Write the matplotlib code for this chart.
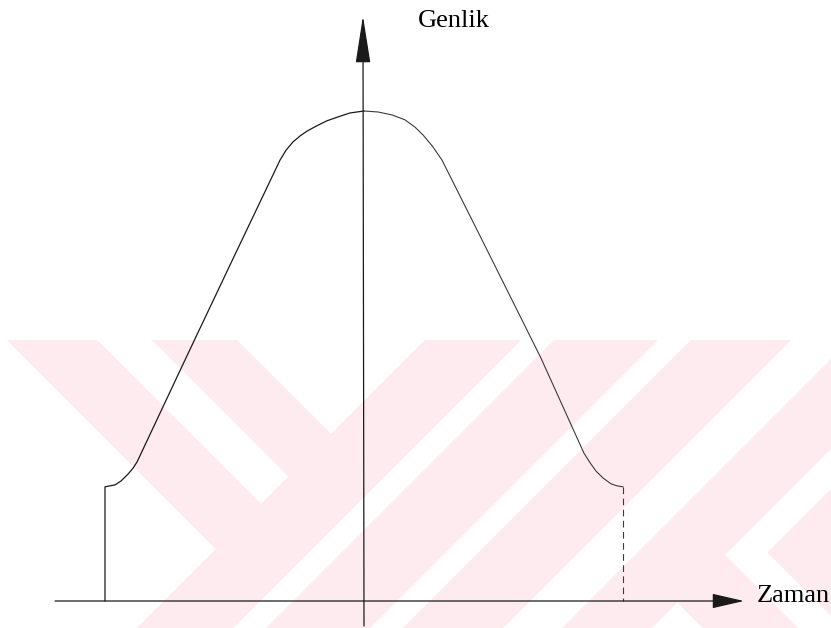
import numpy as np
import matplotlib
matplotlib.use("Agg")
import matplotlib.pyplot as plt

# Pulse shape: time (normalised, edges at +/-1) and amplitude (peak = 1)
time_left = [-1.000, -1.000, -0.981, -0.961, -0.938, -0.911, -0.892, -0.876,
             -0.691, -0.517, -0.324, -0.301, -0.274, -0.247, -0.220, -0.185,
             -0.143, -0.100, -0.054, 0.000]
amp_left = [0.000, 0.233, 0.235, 0.237, 0.245, 0.259, 0.271, 0.284,
            0.492, 0.686, 0.900, 0.920, 0.937, 0.949, 0.959, 0.969,
            0.980, 0.988, 0.996, 1.000]

time_right = [0.000, 0.054, 0.108, 0.158, 0.197, 0.228, 0.263, 0.301,
              0.448, 0.602, 0.683, 0.849, 0.873, 0.896, 0.923, 0.954,
              0.977, 1.000]
amp_right = [1.000, 0.998, 0.992, 0.982, 0.967, 0.951, 0.929, 0.900,
             0.745, 0.582, 0.496, 0.302, 0.282, 0.265, 0.251, 0.239,
             0.235, 0.233]

edge_time = [1.000, 1.000]
edge_amp = [0.233, 0.000]

x_label = "Zaman"
y_label = "Genlik"

W, H, DPI = 831, 628, 100
fig = plt.figure(figsize=(W / DPI, H / DPI), dpi=DPI)
fig.patch.set_facecolor("white")

# ---- pale background emblem (diagonal bands) ----
bg = fig.add_axes([0, 0, 1, 1], zorder=0)
bg.set_axis_off()
ss = 3
yy, xx = np.mgrid[0:H * ss, 0:W * ss]
xx = (xx + 0.5) / ss
yy = (yy + 0.5) / ss
s = xx + yy
d = xx - yy

def within(v, ranges):
    m = np.zeros_like(v, dtype=bool)
    for lo, hi in ranges:
        m |= (v >= lo) & (v <= hi)
    return m

band_top = 340
left_split, right_split = 765, 1280
down_bands_left = [(-333, -243), (-188, -103)]
up_bands = [(765, 861), (894, 998), (1031, 1131), (1190, 1280)]
down_bands_right = [(75, 170)]

mask = np.zeros_like(s, dtype=bool)
mask |= (s < left_split) & within(d, down_bands_left)
mask |= (s >= left_split) & (s < right_split) & within(s, up_bands)
mask |= (s >= right_split) & (within(d, down_bands_right) | ((d >= 215) & (s >= 1320)))
mask &= yy >= band_top
cov = mask.reshape(H, ss, W, ss).mean(axis=(1, 3))

pink = np.array([253, 235, 239]) / 255.0
img = np.ones((H, W, 3)) * (1 - cov[..., None]) + pink * cov[..., None]
bg.imshow(img, extent=[0, W, H, 0], interpolation="bilinear", aspect="auto")
bg.set_xlim(0, W)
bg.set_ylim(H, 0)

# ---- main drawing axes (time vs amplitude) ----
ax = fig.add_axes([0, 0, 1, 1], zorder=1)
ax.set_axis_off()
ax.patch.set_visible(False)
x0_px, x_scale = 364.0, 259.0
y0_px, y_scale = 601.0, 490.0
ax.set_xlim(-x0_px / x_scale, (W - x0_px) / x_scale)
ax.set_ylim((y0_px - H) / y_scale, y0_px / y_scale)

ink = "#1a1a1a"

# coordinate axes with arrow heads
ax.annotate("", xy=(1.467, 0), xytext=(-1.193, 0),
            arrowprops=dict(arrowstyle="-|>,head_length=20,head_width=4.6",
                            mutation_scale=1, lw=0.9, color=ink,
                            shrinkA=0, shrinkB=0))
ax.annotate("", xy=(-0.004, 1.194), xytext=(0.0, -0.051),
            arrowprops=dict(arrowstyle="-|>,head_length=30,head_width=4.7",
                            mutation_scale=1, lw=0.9, color=ink,
                            shrinkA=0, shrinkB=0))

# pulse
ax.plot(time_left, amp_left, color=ink, lw=0.9, solid_joinstyle="round")
ax.plot(time_right, amp_right, color="#3a3a3a", lw=0.8, solid_joinstyle="round")
ax.plot(edge_time, edge_amp, color="#3a3a3a", lw=0.8, linestyle=(0, (6, 4)))

serif = ["Liberation Serif", "DejaVu Serif"]
ax.text(0.2085, 1.1714, y_label, family=serif, fontsize=19, color="black",
        ha="left", va="baseline")
ax.text(1.517, -0.002, x_label, family=serif, fontsize=19, color="black",
        ha="left", va="baseline")

fig.savefig("out.png", dpi=DPI, facecolor="white")
